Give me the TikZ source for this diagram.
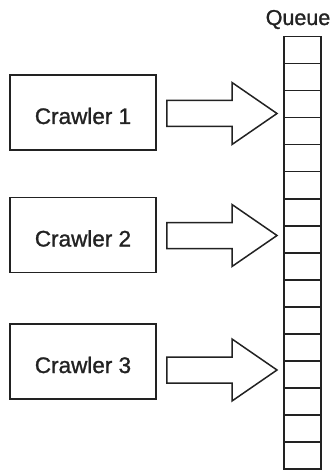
\documentclass[tikz,border=0pt]{standalone}
\usepackage{fontspec}
\setmainfont{Liberation Sans}
\newfontfamily\labelfont[FakeBold=1.2]{Liberation Sans}
\usetikzlibrary{calc}
\definecolor{ink}{HTML}{222222}
\tikzset{
  crawler/.style={draw=ink, line width=1.5pt, minimum width=146pt, minimum height=75pt,
    inner sep=0pt, font=\labelfont\fontsize{22.5}{24}\selectfont, text=ink, text height=23pt, text depth=0pt},
  cell/.style={draw=ink, line width=1.5pt, minimum width=37pt, minimum height=27pt,
    inner sep=0pt, anchor=north west},
  blockarrow/.style={draw=ink, line width=1.5pt, line join=miter, fill=white},
  qlabel/.style={font=\labelfont\fontsize{21.5}{23}\selectfont, text=ink, inner sep=0pt, anchor=base}
}
% block arrow from tail coordinate #1 to tip coordinate #2 (horizontal)
\newcommand\fatarrow[2]{%
  \draw[blockarrow]
    ($(#1)+(0,-13)$) -- ($(#2)+(-45,-13)$) -- ($(#2)+(-45,-31)$) -- (#2)
    -- ($(#2)+(-45,31)$) -- ($(#2)+(-45,13)$) -- ($(#1)+(0,13)$) -- cycle;}
\begin{document}
\begin{tikzpicture}[x=1pt, y=-1pt]
  \useasboundingbox (0,0) rectangle (331,470);

  % queue of 16 slots
  \foreach \i in {1,...,16} {
    \node[cell] (q\i) at (283, {36+27*(\i-1)}) {};
  }
  \node[qlabel] (qtitle) at (298,25) {Queue};

  % crawlers
  \node[crawler] (c1) at (83,112.5) {Crawler 1};
  \node[crawler] (c2) at (83,235) {Crawler 2};
  \node[crawler] (c3) at (83,361.5) {Crawler 3};

  % arrows from each crawler into the queue
  \coordinate (a1s) at ($(c1.east |- 0,113.5)+(10,0)$);
  \coordinate (a1e) at ($(q1.west |- 0,113.5)+(-6,0)$);
  \coordinate (a2s) at ($(c2.east |- 0,235.5)+(10,0)$);
  \coordinate (a2e) at ($(q1.west |- 0,235.5)+(-6,0)$);
  \coordinate (a3s) at ($(c3.east |- 0,370)+(10,0)$);
  \coordinate (a3e) at ($(q1.west |- 0,370)+(-6,0)$);
  \fatarrow{a1s}{a1e}
  \fatarrow{a2s}{a2e}
  \fatarrow{a3s}{a3e}
\end{tikzpicture}
\end{document}
